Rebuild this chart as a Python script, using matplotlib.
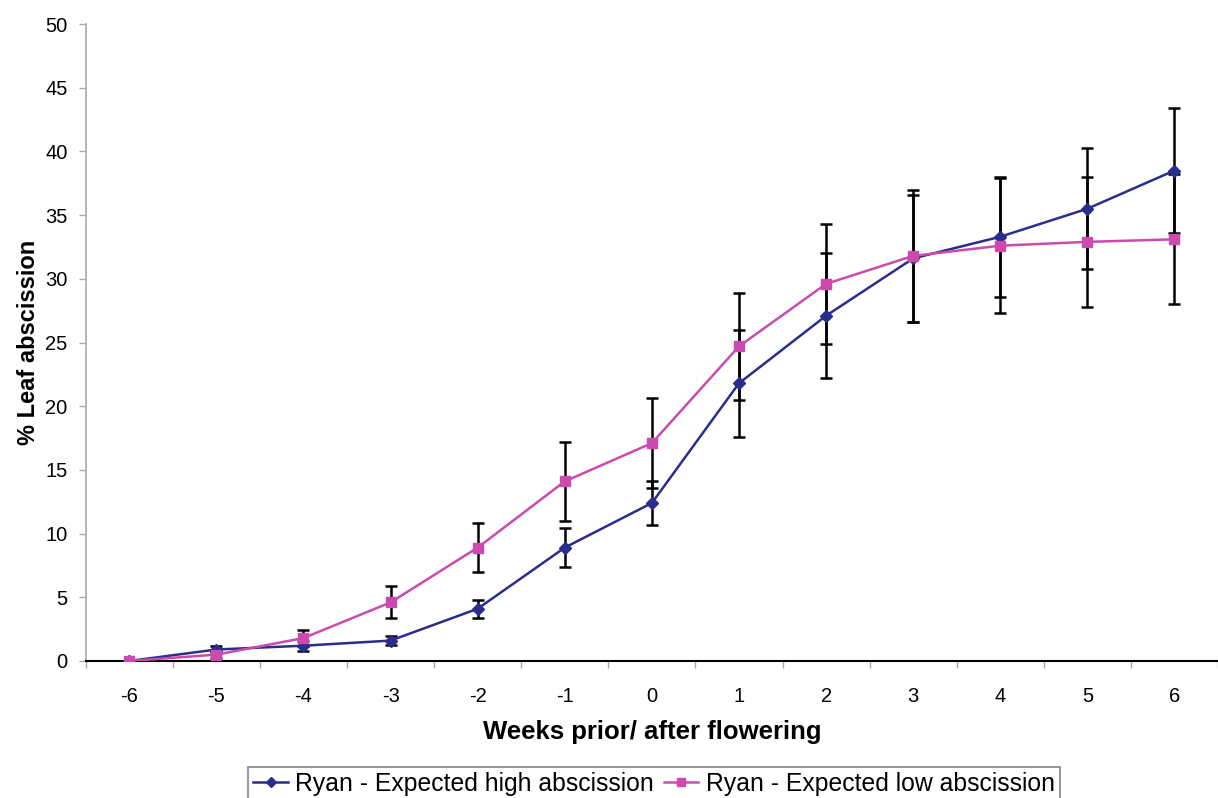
import matplotlib.pyplot as plt
import numpy as np

plt.rcParams['font.family'] = ['Liberation Sans', 'DejaVu Sans']
plt.rcParams['axes.unicode_minus'] = False

weeks = [-6, -5, -4, -3, -2, -1, 0, 1, 2, 3, 4, 5, 6]

# Ryan - expected high abscission
high = [0, 0.9, 1.2, 1.6, 4.1, 8.9, 12.4, 21.8, 27.1, 31.6, 33.3, 35.5, 38.5]
high_err = [0, 0.3, 0.4, 0.35, 0.7, 1.5, 1.7, 4.2, 4.9, 5.0, 4.7, 4.75, 4.9]

# Ryan - expected low abscission
low = [0, 0.5, 1.8, 4.6, 8.9, 14.1, 17.1, 24.7, 29.6, 31.8, 32.6, 32.9, 33.1]
low_err = [0, 0.3, 0.6, 1.25, 1.9, 3.1, 3.55, 4.2, 4.7, 5.2, 5.3, 5.1, 5.1]

yticks = [0, 5, 10, 15, 20, 25, 30, 35, 40, 45, 50]

fig = plt.figure(figsize=(12.18, 7.98), dpi=100)
ax = fig.add_axes([0.0704, 0.1717, 0.9296, 0.7982])

blue = '#2b2d8a'
pink = '#cc4aae'

ax.errorbar(weeks, high, yerr=high_err, fmt='none', ecolor='black',
            elinewidth=1.8, capsize=4, capthick=1.8, zorder=3)
ax.errorbar(weeks, low, yerr=low_err, fmt='none', ecolor='black',
            elinewidth=1.8, capsize=4, capthick=1.8, zorder=3)
ax.plot(weeks, high, color=blue, lw=1.8, marker='D', ms=6,
        label='Ryan - Expected high abscission', zorder=4)
ax.plot(weeks, low, color=pink, lw=1.8, marker='s', ms=7,
        label='Ryan - Expected low abscission', zorder=5)

ax.set_xlim(-6.49, 6.4)
ax.set_ylim(0, 50)

ax.set_yticks(yticks)
ax.set_xticks(weeks)
ax.set_xticks(np.arange(-6.5, 6.6, 1), minor=True)
ax.tick_params(axis='x', which='major', length=0, pad=19, labelsize=14.5)
ax.tick_params(axis='x', which='minor', length=5, color='#aaaaaa', width=1)
ax.tick_params(axis='y', length=5, color='#aaaaaa', width=1, pad=8, labelsize=14.5)

for s in ['top', 'right']:
    ax.spines[s].set_visible(False)
ax.spines['left'].set_color('#aaaaaa')
ax.spines['left'].set_linewidth(1.2)
ax.spines['bottom'].set_color('black')
ax.spines['bottom'].set_linewidth(1.5)

ax.set_xlabel('Weeks prior/ after flowering', fontsize=18.5, fontweight='bold', labelpad=10)
ax.set_ylabel('% Leaf abscission', fontsize=17, fontweight='bold', labelpad=4)

leg = fig.legend(loc='upper center', bbox_to_anchor=(0.537, 0.039), ncol=2,
                 fontsize=17.8, frameon=True, fancybox=False, handlelength=1.4,
                 handletextpad=0.3, columnspacing=0.4, borderpad=0.2,
                 borderaxespad=0, markerscale=0.8)
leg.get_frame().set_edgecolor('#666666')
leg.get_frame().set_linewidth(1.2)

fig.savefig('out.png', dpi=100)
